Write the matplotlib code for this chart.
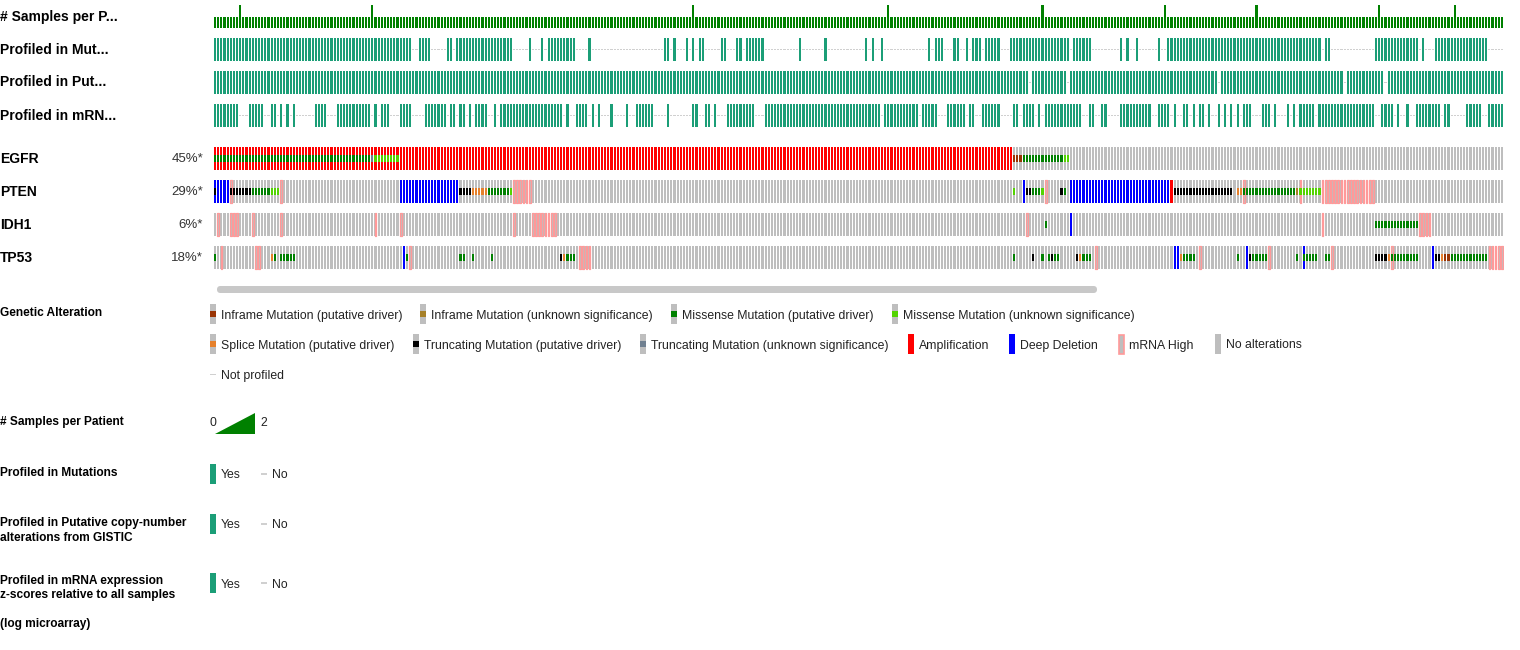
import numpy as np
import matplotlib
matplotlib.use("Agg")
import matplotlib.pyplot as plt
from matplotlib.patches import FancyBboxPatch, Polygon, Rectangle

plt.rcParams["font.family"] = ["Liberation Sans", "DejaVu Sans"]

# ── data (column = patient index, ranges are [start, end)) ─────────────
N_PATIENTS = 410
TWO_SAMPLE_PATIENTS = [8, 50, 152, 214, 263, 302, 331, 370, 394]

MUT_PROFILED = [(0, 63), (65, 69), (74, 76), (77, 95), (100, 101), (104, 105),
                (106, 115), (119, 120), (143, 145), (146, 147), (150, 151),
                (152, 153), (154, 156), (161, 163), (166, 168), (169, 175),
                (186, 187), (194, 195), (207, 208), (209, 210), (212, 213),
                (227, 228), (229, 232), (235, 237), (239, 240), (241, 244),
                (245, 250), (253, 272), (273, 279), (288, 289), (290, 291),
                (293, 294), (300, 301), (303, 304), (304, 352), (353, 355),
                (369, 383), (384, 385), (388, 405)]
CNA_NOT_PROFILED = [259, 271, 319, 359, 372]
MRNA_PROFILED = [(0, 8), (11, 16), (18, 20), (21, 22), (23, 24), (25, 26),
                 (32, 36), (39, 50), (51, 52), (53, 56), (59, 63), (67, 74),
                 (75, 77), (78, 80), (81, 82), (83, 87), (89, 90), (91, 111),
                 (112, 113), (115, 119), (120, 121), (122, 123), (126, 127),
                 (131, 132), (134, 140), (144, 145), (152, 154), (156, 158),
                 (159, 160), (163, 172), (175, 212), (213, 224), (225, 230),
                 (233, 239), (240, 242), (244, 250), (254, 256), (257, 261),
                 (262, 263), (264, 276), (278, 280), (282, 284), (288, 298),
                 (300, 304), (305, 306), (308, 310), (311, 312), (313, 315),
                 (316, 317), (319, 320), (321, 322), (323, 324), (325, 326),
                 (327, 330), (333, 336), (337, 338), (341, 342), (343, 344),
                 (345, 350), (351, 369), (371, 375), (376, 377), (379, 380),
                 (382, 390), (391, 393), (398, 403), (405, 410)]

GENES = ["EGFR", "PTEN", "IDH1", "TP53"]
GENE_PCT = ["45%*", "29%*", "6%*", "18%*"]

EGFR = {
    "amp": [(0, 254)],
    "missense_drv": [(0, 50), (257, 270)],
    "trunc_unk": [(50, 51)],
    "missense_unk": [(51, 59), (270, 272)],
    "inframe_drv": [(254, 257)],
}
PTEN = {
    "deep_del": [(0, 5), (59, 78), (257, 258), (272, 304)],
    "amp": [(304, 305)],
    "mrna_high": [(5, 6), (21, 22), (95, 101), (264, 265), (327, 328),
                  (345, 346), (352, 369)],
    "trunc_drv": [(0, 1), (5, 12), (78, 82), (258, 260), (269, 270), (305, 324)],
    "splice_drv": [(82, 87), (325, 327)],
    "missense_drv": [(12, 18), (87, 94), (260, 263), (270, 271), (327, 344)],
    "missense_unk": [(18, 21), (94, 95), (254, 255), (263, 264), (345, 352)],
    "inframe_unk": [(344, 345)],
}
IDH1 = {
    "mrna_high": [(1, 2), (5, 8), (12, 13), (21, 22), (51, 52), (59, 60),
                  (95, 96), (101, 109), (258, 259), (352, 353), (383, 387)],
    "deep_del": [(272, 273)],
    "missense_drv": [(264, 265), (369, 383)],
}
TP53 = {
    "deep_del": [(60, 61), (305, 307), (328, 329), (346, 347), (387, 388)],
    "mrna_high": [(2, 3), (13, 15), (62, 63), (116, 120), (280, 281), (313, 314),
                  (335, 336), (355, 356), (374, 375), (405, 410)],
    "missense_drv": [(0, 1), (19, 20), (21, 26), (61, 62), (78, 80), (82, 83),
                     (88, 89), (112, 115), (254, 255), (263, 264), (265, 266),
                     (267, 269), (276, 279), (308, 312), (325, 326), (330, 335),
                     (344, 345), (346, 351), (353, 355), (374, 383), (393, 405)],
    "trunc_drv": [(110, 111), (260, 261), (266, 267), (274, 275), (329, 330),
                  (369, 373), (388, 390)],
    "splice_drv": [(18, 19), (111, 112), (275, 276), (307, 308), (373, 374),
                   (390, 391)],
    "inframe_drv": [(391, 393)],
}
GENE_DATA = [EGFR, PTEN, IDH1, TP53]

COLORS = {
    "inframe_drv": "#993404",
    "inframe_unk": "#a68028",
    "missense_drv": "#008000",
    "missense_unk": "#53d400",
    "splice_drv": "#e5802b",
    "trunc_drv": "#000000",
    "trunc_unk": "#708090",
    "amp": "#ff0000",
    "deep_del": "#0000ff",
    "mrna_high": "#ff9999",
    "none": "#bebebe",
}
PROFILED = "#1b9e77"
NOT_PROF = "#d0d0d0"
SPP_GREEN = "#008000"

MUT_TYPES = ["inframe_drv", "inframe_unk", "missense_drv", "missense_unk",
             "splice_drv", "trunc_drv", "trunc_unk"]

# ── layout (pixels) ────────────────────────────────────────────────────
W, H = 1520, 650
X0, X1 = 214, 1504
TOP_H = 275
BAR_W = 0.68
TRACK_H = 23
CLIN_TOPS = [38, 71, 104]
GENE_TOPS = [147, 180, 213, 246]
TY = 1.5   # small downward nudge so va="center" matches browser text


def cols(ranges):
    return np.concatenate([np.arange(a, b) for a, b in ranges])


fig = plt.figure(figsize=(W / 100, H / 100), dpi=100)

# full-figure overlay for labels / legend
lg = fig.add_axes([0, 0, 1, 1])
lg.set_xlim(0, W)
lg.set_ylim(H, 0)
lg.axis("off")

onc = fig.add_axes([X0 / W, 1 - TOP_H / H, (X1 - X0) / W, TOP_H / H])
onc.set_xlim(0, N_PATIENTS)
onc.set_ylim(TOP_H, 0)
onc.axis("off")
onc.patch.set_alpha(0)

all_cols = np.arange(N_PATIENTS)

# # samples per patient
spp = np.ones(N_PATIENTS)
spp[TWO_SAMPLE_PATIENTS] = 2
onc.bar(all_cols, -spp * 11.5, bottom=28, width=BAR_W, align="edge",
        color=SPP_GREEN, linewidth=0)

# profiled tracks
mut_yes = cols(MUT_PROFILED)
cna_yes = np.setdiff1d(all_cols, CNA_NOT_PROFILED)
mrna_yes = cols(MRNA_PROFILED)
for top, yes in zip(CLIN_TOPS, [mut_yes, cna_yes, mrna_yes]):
    no = np.setdiff1d(all_cols, yes)
    onc.bar(yes, TRACK_H, bottom=top, width=BAR_W, align="edge",
            color=PROFILED, linewidth=0)
    onc.bar(no, 1, bottom=top + TRACK_H / 2 - 0.5, width=BAR_W, align="edge",
            color=NOT_PROF, linewidth=0)

# gene rows
band = TRACK_H / 3
for top, gdata in zip(GENE_TOPS, GENE_DATA):
    onc.bar(all_cols, TRACK_H, bottom=top, width=BAR_W, align="edge",
            color=COLORS["none"], linewidth=0)
    if "mrna_high" in gdata:
        onc.bar(cols(gdata["mrna_high"]) + 0.08, TRACK_H - 0.6, bottom=top + 0.3,
                width=BAR_W - 0.16, align="edge", color=COLORS["none"],
                edgecolor=COLORS["mrna_high"], linewidth=0.9)
    for cna in ["amp", "deep_del"]:
        if cna in gdata:
            onc.bar(cols(gdata[cna]), TRACK_H, bottom=top, width=BAR_W,
                    align="edge", color=COLORS[cna], linewidth=0)
    for mt in MUT_TYPES:
        if mt in gdata:
            onc.bar(cols(gdata[mt]), band, bottom=top + band, width=BAR_W,
                    align="edge", color=COLORS[mt], linewidth=0)

# scrollbar
lg.add_patch(FancyBboxPatch((X0 + 3, 286), 1100 - X0 - 6, 7,
                            boxstyle="round,pad=0,rounding_size=3.5",
                            fc="#c8c8c8", ec="none"))

# track labels
lab_kw = dict(fontsize=10, fontweight="bold", va="center", ha="left")
for y, t in zip([16, 48, 81, 114],
                ["# Samples per P...", "Profiled in Mut...",
                 "Profiled in Put...", "Profiled in mRN..."]):
    lg.text(0, y + TY, t, **lab_kw)
for top, g, p in zip(GENE_TOPS, GENES, GENE_PCT):
    lg.text(0, top + 10.5 + TY, g, **lab_kw)
    lg.text(203, top + 10.5 + TY, p, fontsize=9.5, color="#333333",
            va="center", ha="right")

# legend
sec_kw = dict(fontsize=8.6, fontweight="bold", va="center", ha="left")
item_kw = dict(fontsize=8.8, va="center", ha="left", color="#222222")

lg.text(0, 311 + TY, "Genetic Alteration", **sec_kw)

LEGEND_ITEMS = [
    (210, 314, "inframe_drv", "Inframe Mutation (putative driver)"),
    (420, 314, "inframe_unk", "Inframe Mutation (unknown significance)"),
    (671, 314, "missense_drv", "Missense Mutation (putative driver)"),
    (892, 314, "missense_unk", "Missense Mutation (unknown significance)"),
    (210, 344, "splice_drv", "Splice Mutation (putative driver)"),
    (413, 344, "trunc_drv", "Truncating Mutation (putative driver)"),
    (640, 344, "trunc_unk", "Truncating Mutation (unknown significance)"),
    (908, 344, "amp", "Amplification"),
    (1009, 344, "deep_del", "Deep Deletion"),
    (1118, 344, "mrna_high", "mRNA High"),
    (1215, 344, "none", "No alterations"),
]
for x, y, key, label in LEGEND_ITEMS:
    if key in MUT_TYPES:
        lg.add_patch(Rectangle((x, y - 10), 6, 20, fc=COLORS["none"], ec="none"))
        lg.add_patch(Rectangle((x, y - 3.3), 6, 6.6, fc=COLORS[key], ec="none"))
    elif key == "mrna_high":
        lg.add_patch(Rectangle((x + 0.5, y - 9.5), 5, 19, fc=COLORS["none"],
                               ec=COLORS[key], lw=1.2))
    else:
        lg.add_patch(Rectangle((x, y - 10), 6, 20, fc=COLORS[key], ec="none"))
    lg.text(x + 11, y + TY, label, **item_kw)

lg.add_patch(Rectangle((210, 373.5), 6, 1.5, fc=NOT_PROF, ec="none"))
lg.text(221, 374 + TY, "Not profiled", **item_kw)

# samples per patient legend
lg.text(0, 421 + TY, "# Samples per Patient", **sec_kw)
lg.text(210, 421 + TY, "0", **item_kw)
lg.add_patch(Polygon([(215, 434), (255, 434), (255, 413)], closed=True,
                     fc=SPP_GREEN, ec="none"))
lg.text(260, 421 + TY, "2", **item_kw)

# profiled legends
PROF_LEGENDS = [
    (471, 474, "Profiled in Mutations"),
    (529, 524, "Profiled in Putative copy-number\nalterations from GISTIC"),
    (601, 583, "Profiled in mRNA expression\nz-scores relative to all samples\n\n(log microarray)"),
]
for ly, iy, label in PROF_LEGENDS:
    lg.text(0, ly + TY, label, fontsize=8.6, fontweight="bold", va="center",
            ha="left", linespacing=1.25)
    lg.add_patch(Rectangle((210, iy - 10), 6, 20, fc=PROFILED, ec="none"))
    lg.text(221, iy + TY, "Yes", **item_kw)
    lg.add_patch(Rectangle((261, iy - 0.75), 6, 1.5, fc=NOT_PROF, ec="none"))
    lg.text(272, iy + TY, "No", **item_kw)

fig.savefig("out.png", dpi=100)
